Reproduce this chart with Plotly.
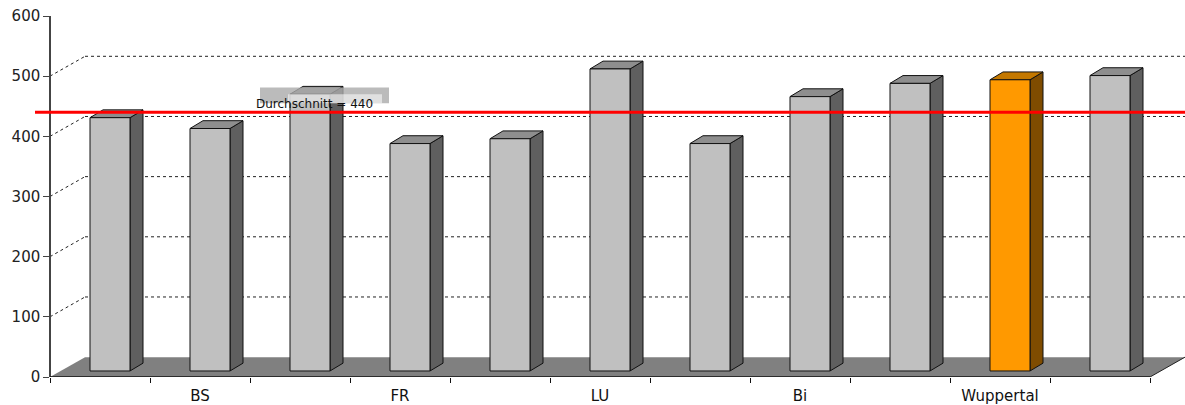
import plotly.graph_objects as go

# ---- data -------------------------------------------------------------
categories = ["", "BS", "", "FR", "", "LU", "", "Bi", "", "Wuppertal", ""]
values = [421, 403, 460, 378, 386, 502, 378, 456, 478, 484, 491]
highlight = "Wuppertal"
grid_values = [100, 200, 300, 400, 500]
y_ticks = [0, 100, 200, 300, 400, 500, 600]

avg = round(sum(values) / len(values))

# ---- pseudo-3D geometry (axis units) ---------------------------------
WALL_DX, WALL_DY = 0.35, 33      # depth of floor / back wall
BAR_W, BAR_DX, BAR_LIFT = 0.4, 0.10, 10   # bar plane sits mid-depth
SIDE_DX, SIDE_DY = 0.13, 13      # bar depth
X_MIN, X_MAX = -0.65, len(values) - 0.5 + WALL_DX

GRAY = dict(front="#C0C0C0", top="#8E8E8E", side="#5F5F5F")
ORANGE = dict(front="#FF9900", top="#C47800", side="#7F4C00")
FONT = "DejaVu Sans, Arial, sans-serif"

n = len(values)
xs = [i + BAR_DX for i in range(n)]
palettes = [ORANGE if c == highlight else GRAY for c in categories]

shapes = []

# floor
fx0, fx1 = -0.5, n - 0.5
shapes.append(dict(
    type="path", layer="below", xref="x", yref="y",
    path=f"M {fx0},0 L {fx1},0 L {fx1 + WALL_DX},{WALL_DY} L {fx0 + WALL_DX},{WALL_DY} Z",
    fillcolor="#808080", line=dict(width=0)))
shapes.append(dict(
    type="line", layer="below", xref="x", yref="y",
    x0=fx1, y0=0, x1=fx1 + WALL_DX, y1=WALL_DY,
    line=dict(color="#222222", width=1)))

# back-wall gridlines
for v in grid_values:
    shapes.append(dict(
        type="line", layer="below", xref="x", yref="y",
        x0=fx0, y0=v, x1=fx0 + WALL_DX, y1=v + WALL_DY,
        line=dict(color="#222222", width=1, dash="3px,3px")))
    shapes.append(dict(
        type="line", layer="below", xref="x", yref="y",
        x0=fx0 + WALL_DX, y0=v + WALL_DY, x1=X_MAX, y1=v + WALL_DY,
        line=dict(color="#222222", width=1, dash="3px,3px")))

# bar tops and sides
for x, v, pal in zip(xs, values, palettes):
    left, right = x - BAR_W / 2, x + BAR_W / 2
    top = BAR_LIFT + v
    shapes.append(dict(
        type="path", layer="below", xref="x", yref="y",
        path=(f"M {right},{BAR_LIFT} L {right},{top} "
              f"L {right + SIDE_DX},{top + SIDE_DY} L {right + SIDE_DX},{BAR_LIFT + SIDE_DY} Z"),
        fillcolor=pal["side"], line=dict(color="#111111", width=1)))
    shapes.append(dict(
        type="path", layer="below", xref="x", yref="y",
        path=(f"M {left},{top} L {right},{top} "
              f"L {right + SIDE_DX},{top + SIDE_DY} L {left + SIDE_DX},{top + SIDE_DY} Z"),
        fillcolor=pal["top"], line=dict(color="#111111", width=1)))

# average line
shapes.append(dict(
    type="line", layer="above", xref="x", yref="y",
    x0=X_MIN, y0=avg, x1=X_MAX, y1=avg,
    line=dict(color="#FF0000", width=3)))

# label box behind the average caption
shapes.append(dict(
    type="rect", layer="above", xref="x", yref="y",
    x0=1.60, x1=2.89, y0=avg + 15, y1=avg + 41,
    fillcolor="rgba(170,170,170,0.8)", line=dict(width=0)))
shapes.append(dict(
    type="rect", layer="above", xref="x", yref="y",
    x0=1.88, x1=2.82, y0=avg + 15, y1=avg + 30,
    fillcolor="rgba(255,255,255,0.55)", line=dict(width=0)))

fig = go.Figure()
fig.add_trace(go.Bar(
    x=xs, y=values, base=BAR_LIFT, width=BAR_W,
    marker=dict(color=[p["front"] for p in palettes],
                line=dict(color="#111111", width=1)),
    hovertext=categories, showlegend=False))

fig.add_annotation(
    x=2.14, y=avg + 13, xref="x", yref="y", showarrow=False,
    text=f"Durchschnitt = {avg}",
    font=dict(family=FONT, size=12, color="#111111"))

fig.update_layout(
    width=1185, height=405,
    margin=dict(l=35, r=0, t=16, b=26),
    paper_bgcolor="white", plot_bgcolor="white",
    shapes=shapes,
    xaxis=dict(
        range=[X_MIN, X_MAX], showgrid=False, zeroline=False, showline=False,
        tickmode="array", tickvals=list(range(n)), ticktext=categories,
        ticks="outside", ticklen=5, tickcolor="rgba(0,0,0,0)",
        tickfont=dict(family=FONT, size=15, color="#111111"),
        minor=dict(tickmode="array", tickvals=[k - 0.5 for k in range(n + 1)],
                   ticks="outside", ticklen=5, tickcolor="#111111",
                   tickwidth=1, showgrid=False),
    ),
    yaxis=dict(
        range=[0, 600], anchor="free", position=15 / 1150,
        showgrid=False, zeroline=False,
        showline=True, linecolor="#444444", linewidth=1.5,
        tickmode="array", tickvals=y_ticks,
        ticks="outside", ticklen=6, tickcolor="#444444",
        tickfont=dict(family=FONT, size=15, color="#222222"),
    ),
)

# front edge of the floor (category axis line)
fig.add_shape(type="line", layer="above", xref="x", yref="y",
              x0=fx0, y0=0, x1=fx1, y1=0,
              line=dict(color="#111111", width=1.5))

fig.write_html("out.html")
